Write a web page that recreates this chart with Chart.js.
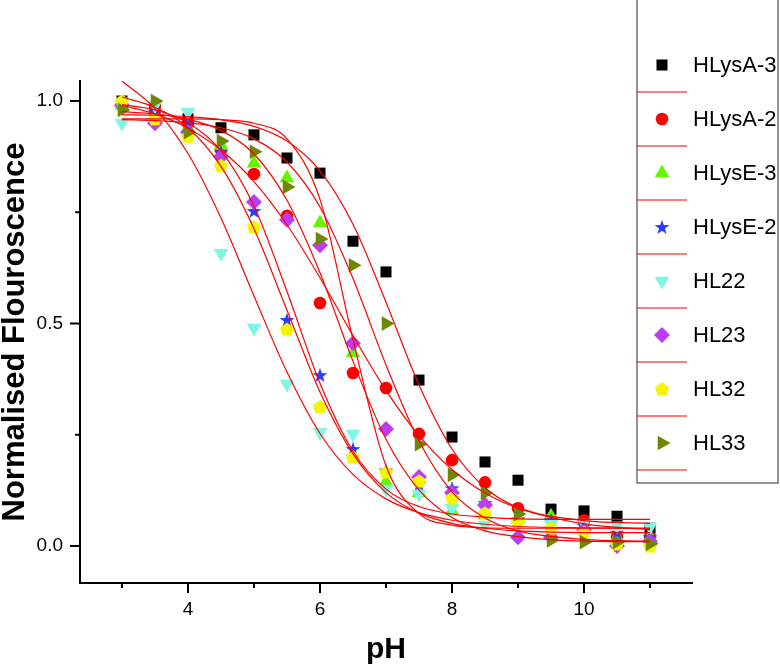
<!DOCTYPE html>
<html>
<head>
<meta charset="utf-8">
<script src="https://cdn.jsdelivr.net/npm/chart.js@4.4.1/dist/chart.umd.min.js"></script>
<style>
  body { margin: 0; background: #fff; }
  #chart { display: block; }
</style>
</head>
<body>
<canvas id="chart" width="780" height="668"></canvas>
<script>
// pH values of the measured points
const ph = [3, 3.5, 4, 4.5, 5, 5.5, 6, 6.5, 7, 7.5, 8, 8.5, 9, 9.5, 10, 10.5, 11];

const hlysA3 = [1.0, 0.98, 0.96, 0.94, 0.924, 0.872, 0.838, 0.685, 0.616, 0.373, 0.245, 0.189, 0.148, 0.083, 0.079, 0.067, 0.04];
const hlysA2 = [0.99, 0.99, 0.95, 0.89, 0.836, 0.742, 0.546, 0.389, 0.355, 0.252, 0.193, 0.143, 0.085, 0.06, 0.058, 0.02, 0.02];
const hlysE3 = [0.99, 0.97, 0.94, 0.9, 0.86, 0.827, 0.726, 0.434, 0.144, 0.12, 0.079, 0.07, 0.06, 0.067, 0.04, 0.02, 0.02];
const hlysE2 = [0.99, 0.975, 0.95, 0.885, 0.753, 0.508, 0.384, 0.218, 0.17, 0.14, 0.13, 0.097, 0.06, 0.058, 0.045, 0.03, 0.02];
const hl22 = [0.95, 0.99, 0.975, 0.658, 0.49, 0.364, 0.256, 0.252, 0.128, 0.117, 0.085, 0.047, 0.05, 0.05, 0.052, 0.045, 0.043];
const hl23 = [0.99, 0.95, 0.93, 0.875, 0.773, 0.733, 0.676, 0.456, 0.263, 0.155, 0.12, 0.092, 0.02, 0.02, 0.036, 0.0, 0.01];
const hl32 = [1.0, 0.96, 0.92, 0.855, 0.717, 0.487, 0.313, 0.2, 0.166, 0.146, 0.108, 0.074, 0.054, 0.04, 0.03, 0.005, 0.0];
const hl33 = [0.98, 1.0, 0.93, 0.91, 0.886, 0.807, 0.69, 0.631, 0.5, 0.229, 0.16, 0.119, 0.072, 0.013, 0.009, 0.009, 0.005];

// fitted curves (red lines), sampled off the figure
const fitPh = [3, 3.5, 4, 4.5, 5, 5.5, 6, 6.5, 7, 7.5, 8, 8.5, 9, 10, 11];
const fitA3 = [0.969, 0.968, 0.965, 0.958, 0.943, 0.910, 0.843, 0.723, 0.548, 0.362, 0.218, 0.131, 0.087, 0.057, 0.051];
const fitA2 = [0.99, 0.971, 0.939, 0.89, 0.819, 0.722, 0.603, 0.473, 0.35, 0.248, 0.172, 0.119, 0.085, 0.05, 0.037];
const fitE3 = [0.96, 0.96, 0.96, 0.958, 0.95, 0.915, 0.779, 0.464, 0.18, 0.073, 0.047, 0.041, 0.04, 0.04, 0.04];
const fitE2 = [0.992, 0.98, 0.951, 0.888, 0.764, 0.572, 0.366, 0.213, 0.128, 0.089, 0.072, 0.065, 0.061, 0.06, 0.06];
const fit22 = [1.045, 0.983, 0.882, 0.737, 0.562, 0.391, 0.253, 0.161, 0.106, 0.075, 0.058, 0.049, 0.044, 0.041, 0.04];
const fit23 = [0.976, 0.971, 0.959, 0.934, 0.881, 0.777, 0.614, 0.415, 0.24, 0.126, 0.064, 0.034, 0.021, 0.011, 0.01];
const fit32 = [1.009, 0.986, 0.94, 0.853, 0.713, 0.53, 0.346, 0.207, 0.12, 0.074, 0.051, 0.04, 0.034, 0.03, 0.03];
const fit33 = [0.958, 0.956, 0.951, 0.94, 0.915, 0.863, 0.762, 0.601, 0.407, 0.236, 0.122, 0.063, 0.034, 0.015, 0.011];

const seriesNames = ['HLysA-3', 'HLysA-2', 'HLysE-3', 'HLysE-2', 'HL22', 'HL23', 'HL32', 'HL33'];
const seriesValues = [hlysA3, hlysA2, hlysE3, hlysE2, hl22, hl23, hl32, hl33];
const fitValues = [fitA3, fitA2, fitE3, fitE2, fit22, fit23, fit32, fit33];

// axis ticks
const xTickValues = [4, 6, 8, 10];
const xTickLabels = ['4', '6', '8', '10'];
const xMinorTicks = [3, 5, 7, 9, 11];
const yTickValues = [0, 0.5, 1];
const yTickLabels = ['0.0', '0.5', '1.0'];
const yMinorTicks = [0.25, 0.75];

// little canvases for the marker shapes Chart.js doesn't have
function makeShape(color, draw) {
  const c = document.createElement('canvas');
  c.width = 18; c.height = 18;
  const g = c.getContext('2d');
  g.fillStyle = color;
  g.beginPath();
  draw(g, 9, 9);
  g.closePath();
  g.fill();
  return c;
}
const starImg = makeShape('#2a3cff', (g, cx, cy) => {
  for (let i = 0; i < 10; i++) {
    const r = i % 2 === 0 ? 7.8 : 3.1;
    const a = -Math.PI / 2 + i * Math.PI / 5;
    g.lineTo(cx + r * Math.cos(a), cy + 0.6 + r * Math.sin(a));
  }
});
const pentImg = makeShape('#f5f500', (g, cx, cy) => {
  for (let i = 0; i < 5; i++) {
    const a = -Math.PI / 2 + i * 2 * Math.PI / 5;
    g.lineTo(cx + 7.4 * Math.cos(a), cy + 0.6 + 7.4 * Math.sin(a));
  }
});

const markers = [
  { color: '#000000', style: 'rect', radius: 7.8, rotation: 0 },
  { color: '#ff0000', style: 'circle', radius: 6.3, rotation: 0 },
  { color: '#66f500', style: 'triangle', radius: 8.5, rotation: 0 },
  { color: '#2a3cff', style: starImg, radius: 7, rotation: 0 },
  { color: '#7ff5e3', style: 'triangle', radius: 8.5, rotation: 180 },
  { color: '#bb3cf2', style: 'rectRot', radius: 8, rotation: 0 },
  { color: '#f5f500', style: pentImg, radius: 7, rotation: 0 },
  { color: '#6e8700', style: 'triangle', radius: 8.5, rotation: 90 }
];

const datasets = [];
fitValues.forEach((vals, i) => {
  datasets.push({
    label: seriesNames[i] + ' fit',
    data: fitPh.map((x, j) => ({ x: x, y: vals[j] })),
    showLine: true,
    borderColor: '#ff0000',
    borderWidth: 1.2,
    pointRadius: 0,
    cubicInterpolationMode: 'monotone',
    order: i
  });
});
seriesValues.forEach((vals, i) => {
  const m = markers[i];
  datasets.push({
    label: seriesNames[i],
    data: ph.map((x, j) => ({ x: x, y: vals[j] })),
    showLine: false,
    pointStyle: m.style,
    pointRadius: m.radius,
    pointRotation: m.rotation,
    backgroundColor: m.color,
    borderColor: m.color,
    borderWidth: 0,
    order: 20 - i // later series drawn on top
  });
});

// minor tick marks + the boxed legend
const extrasPlugin = {
  id: 'extras',
  afterDraw(chart) {
    const ctx = chart.ctx;
    const xs = chart.scales.x, ys = chart.scales.y;
    ctx.save();
    ctx.strokeStyle = '#000';
    ctx.lineWidth = 2;
    ctx.beginPath();
    xTickValues.forEach(v => { const p = xs.getPixelForValue(v); ctx.moveTo(p, xs.top); ctx.lineTo(p, xs.top + 10); });
    xMinorTicks.forEach(v => { const p = xs.getPixelForValue(v); ctx.moveTo(p, xs.top); ctx.lineTo(p, xs.top + 5); });
    yTickValues.forEach(v => { const p = ys.getPixelForValue(v); ctx.moveTo(ys.right, p); ctx.lineTo(ys.right - 10, p); });
    yMinorTicks.forEach(v => { const p = ys.getPixelForValue(v); ctx.moveTo(ys.right, p); ctx.lineTo(ys.right - 5, p); });
    ctx.stroke();

    // legend box
    const bx = 637, bw = 141, bBottom = 483;
    ctx.fillStyle = '#fff';
    ctx.fillRect(bx, -2, bw, bBottom + 2);
    ctx.strokeStyle = '#707070';
    ctx.lineWidth = 1.5;
    ctx.strokeRect(bx, -2, bw, bBottom + 2);

    ctx.font = '22px "Liberation Sans", Arial, sans-serif';
    ctx.textBaseline = 'middle';
    ctx.textAlign = 'left';
    seriesNames.forEach((name, i) => {
      const y = 65 + i * 54;
      const m = markers[i];
      ctx.fillStyle = m.color;
      Chart.helpers.drawPoint(ctx, { pointStyle: m.style, radius: m.radius, rotation: m.rotation, borderWidth: 0 }, 662, y);
      ctx.fillStyle = '#000';
      ctx.fillText(name, 693, y + 1);
      ctx.strokeStyle = '#ff0000';
      ctx.lineWidth = 1.2;
      ctx.beginPath();
      ctx.moveTo(bx, y + 27);
      ctx.lineTo(687, y + 27);
      ctx.stroke();
    });
    ctx.restore();
  }
};

const fontFamily = '"Liberation Sans", Arial, sans-serif';

new Chart(document.getElementById('chart'), {
  type: 'scatter',
  data: { datasets: datasets },
  plugins: [extrasPlugin],
  options: {
    responsive: false,
    animation: false,
    events: [],
    layout: { padding: { left: 0, top: 81, right: 88, bottom: 0 } },
    plugins: { legend: { display: false }, tooltip: { enabled: false } },
    scales: {
      x: {
        type: 'linear',
        min: 2.364,
        max: 11.636,
        afterFit(scale) { scale.height = 85; },
        afterBuildTicks(scale) { scale.ticks = xTickValues.map(v => ({ value: v })); },
        grid: { display: false, drawTicks: false },
        border: { display: true, color: '#000', width: 2 },
        ticks: {
          autoSkip: false,
          maxRotation: 0,
          padding: 15,
          color: '#000',
          font: { family: fontFamily, size: 19 },
          callback: v => xTickLabels[xTickValues.indexOf(v)]
        },
        title: {
          display: true,
          text: 'pH',
          color: '#000',
          font: { family: fontFamily, size: 30, weight: 'bold', lineHeight: 1.2 },
          padding: { top: 0, bottom: 0 }
        }
      },
      y: {
        type: 'linear',
        min: -0.083,
        max: 1.045,
        afterFit(scale) { scale.width = 80; },
        afterBuildTicks(scale) { scale.ticks = yTickValues.map(v => ({ value: v })); },
        grid: { display: false, drawTicks: false },
        border: { display: true, color: '#000', width: 2 },
        ticks: {
          autoSkip: false,
          padding: 17,
          color: '#000',
          font: { family: fontFamily, size: 19 },
          callback: v => yTickLabels[yTickValues.indexOf(v)]
        },
        title: {
          display: true,
          text: 'Normalised Flouroscence',
          color: '#000',
          font: { family: fontFamily, size: 31, weight: 'bold', lineHeight: 1 },
          padding: { top: 0, bottom: 0 }
        }
      }
    }
  }
});
</script>
</body>
</html>
